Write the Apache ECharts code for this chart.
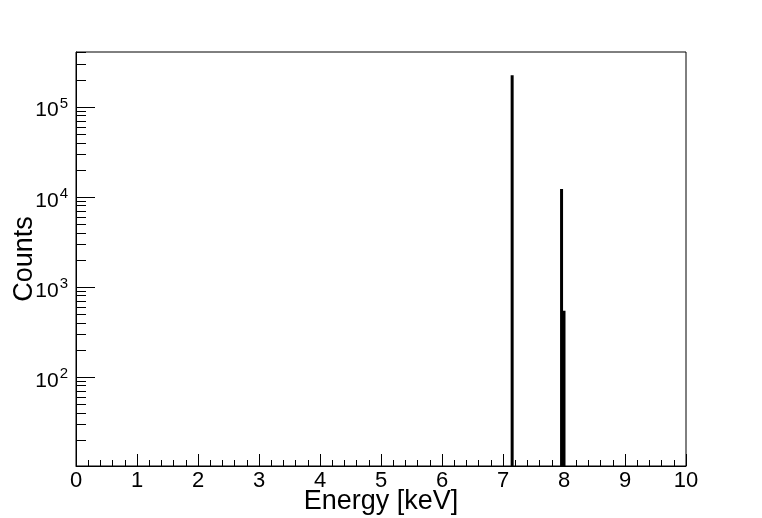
<!DOCTYPE html>
<html>
<head>
<meta charset="utf-8">
<script src="https://cdn.jsdelivr.net/npm/echarts@6/dist/echarts.min.js"></script>
<style>
html,body{margin:0;padding:0;background:#fff;}
#c{width:762px;height:518px;}
</style>
</head>
<body>
<div id="c"></div>
<script>
// Peak positions (keV) and counts
const peakEnergies = [7.15, 7.96, 8.00];
const peakCounts = [223000, 12200, 541];
// Axis settings
const xMin = 0, xMax = 10;
const yMin = 10.2, yMax = 405000;
const yDecades = [100, 1000, 10000, 100000];
const yMinorMultipliers = [2, 3, 4, 5, 6, 7, 8, 9];

const FONT = '"Liberation Sans", Arial, Helvetica, sans-serif';

// minor tick values for the log axis
const yMinorTicks = [];
[10, 100, 1000, 10000, 100000].forEach(d => {
  yMinorMultipliers.forEach(m => {
    const v = d * m;
    if (v > yMin && v < yMax) yMinorTicks.push(v);
  });
});

const chart = echarts.init(document.getElementById('c'), null, {renderer: 'canvas'});

function tickSeries(values, len) {
  return {
    type: 'custom',
    silent: true,
    clip: false,
    data: values.map(v => [v]),
    renderItem: function (params, api) {
      const v = api.value(0);
      const p = api.coord([xMin, v]);
      const y = Math.round(p[1]) + 0.5;
      return {
        type: 'line',
        shape: {x1: p[0], y1: y, x2: p[0] + len, y2: y},
        style: {stroke: '#000', lineWidth: 1}
      };
    },
    encode: {y: 0}
  };
}

chart.setOption({
  animation: false,
  backgroundColor: '#fff',
  grid: {
    left: 76, right: 76, top: 52, bottom: 52,
    outerBoundsMode: 'none',
    containLabel: false,
    show: true, borderColor: '#000', borderWidth: 1, backgroundColor: 'transparent'
  },
  xAxis: {
    type: 'value',
    min: xMin, max: xMax, interval: 1,
    name: 'Energy [keV]',
    nameLocation: 'middle',
    nameGap: 22,
    nameMoveOverlap: false,
    nameTextStyle: {fontFamily: FONT, fontSize: 27, color: '#000'},
    axisLine: {show: true, lineStyle: {color: '#000', width: 1}},
    axisTick: {show: true, inside: true, length: 12, lineStyle: {color: '#000'}},
    minorTick: {show: true, splitNumber: 5, length: 6, lineStyle: {color: '#000'}},
    splitLine: {show: false},
    minorSplitLine: {show: false},
    axisLabel: {fontFamily: FONT, fontSize: 22, color: '#000', margin: 4}
  },
  yAxis: {
    type: 'log',
    logBase: 10,
    min: yMin, max: yMax,
    name: 'Counts',
    nameLocation: 'middle',
    nameGap: 38,
    nameRotate: 90,
    nameMoveOverlap: false,
    nameTextStyle: {fontFamily: FONT, fontSize: 27, color: '#000'},
    axisLine: {show: true, lineStyle: {color: '#000', width: 1}},
    axisTick: {show: false},
    splitLine: {show: false},
    axisLabel: {
      margin: 8,
      formatter: function (v) {
        const l = Math.log10(v);
        const e = Math.round(l);
        if (Math.abs(l - e) > 1e-6) return '';
        return '{b|10}{s|' + e + '}';
      },
      rich: {
        b: {fontFamily: FONT, fontSize: 21, color: '#000', padding: [8, 0, 0, 0]},
        s: {fontFamily: FONT, fontSize: 15, color: '#000', padding: [0, 0, 6, 1]}
      }
    }
  },
  series: [
    {
      type: 'custom',
      name: 'hist',
      data: peakEnergies.map((e, i) => [e, peakCounts[i]]),
      encode: {x: 0, y: 1},
      renderItem: function (params, api) {
        const x = api.value(0), y = api.value(1);
        const top = api.coord([x, y]);
        const bot = api.coord([x, yMin]);
        return {
          type: 'rect',
          shape: {x: top[0] - 1.5, y: top[1], width: 3, height: bot[1] - top[1]},
          style: {fill: '#000'}
        };
      }
    },
    tickSeries(yDecades, 19),
    tickSeries(yMinorTicks, 10)
  ]
});
</script>
</body>
</html>
